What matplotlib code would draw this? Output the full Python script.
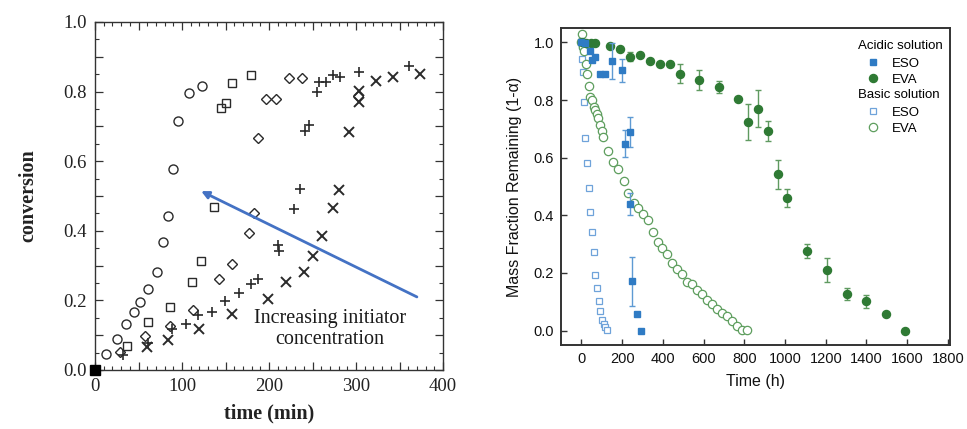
import matplotlib
matplotlib.use("Agg")
import matplotlib.pyplot as plt
from matplotlib.ticker import MultipleLocator, FuncFormatter
from matplotlib.lines import Line2D

# ---------------- Left panel data (time in min, conversion) ----------------
circ_t = [13, 25, 36, 45, 52, 61, 71, 78, 84, 90, 95, 108, 123]
circ_c = [0.047, 0.09, 0.132, 0.166, 0.194, 0.232, 0.281, 0.369, 0.443, 0.578, 0.716, 0.796, 0.816]

sq_t = [37, 61, 86, 111, 122, 137, 145, 150, 157, 179]
sq_c = [0.069, 0.138, 0.182, 0.254, 0.314, 0.469, 0.752, 0.768, 0.826, 0.848]

dia_t = [29, 58, 86, 113, 143, 157, 177, 183, 187, 196, 208, 223, 238, 302]
dia_c = [0.053, 0.097, 0.127, 0.172, 0.261, 0.306, 0.393, 0.45, 0.668, 0.778, 0.778, 0.84, 0.84, 0.786]

plus_t = [32, 61, 88, 105, 118, 135, 149, 166, 179, 187, 210, 211, 229, 236, 241, 246,
          255, 257, 265, 273, 282, 303, 361]
plus_c = [0.043, 0.078, 0.117, 0.131, 0.158, 0.168, 0.197, 0.22, 0.248, 0.261, 0.359, 0.343,
          0.463, 0.52, 0.686, 0.704, 0.80, 0.828, 0.828, 0.847, 0.842, 0.855, 0.873]

x_t = [60, 84, 119, 158, 199, 219, 240, 250, 261, 273, 281, 292, 303, 303, 323, 343, 374]
x_c = [0.065, 0.086, 0.117, 0.16, 0.205, 0.253, 0.283, 0.328, 0.385, 0.465, 0.518, 0.683,
       0.769, 0.803, 0.83, 0.842, 0.852]

origin_t = [0]
origin_c = [0.0]

arrow_start = (370, 0.21)
arrow_end = (122, 0.514)
annot_text = "Increasing initiator\nconcentration"
annot_pos = (270, 0.118)

# ---------------- Right panel data (time in h, mass fraction) ----------------
ac_eso_t = [0, 20, 43, 52, 69, 92, 115, 149, 198, 215, 241, 241, 247, 272, 293]
ac_eso_v = [1.0, 0.999, 0.97, 0.938, 0.949, 0.889, 0.889, 0.935, 0.903, 0.649, 0.69, 0.44,
            0.171, 0.056, 0.0]
ac_eso_e = [0, 0, 0, 0, 0, 0, 0, 0.063, 0.039, 0.048, 0.052, 0.038, 0.085, 0, 0]

ac_eva_t = [5, 25, 45, 68, 141, 190, 240, 289, 338, 384, 433, 482, 577, 674, 771, 820, 866,
            915, 964, 1012, 1108, 1207, 1302, 1400, 1495, 1590]
ac_eva_v = [1.0, 0.998, 0.997, 0.997, 0.987, 0.978, 0.95, 0.958, 0.935, 0.924, 0.924, 0.892,
            0.869, 0.845, 0.802, 0.725, 0.77, 0.694, 0.543, 0.46, 0.277, 0.21, 0.127, 0.102,
            0.058, 0.0]
ac_eva_e = [0, 0, 0, 0, 0, 0, 0.015, 0, 0, 0, 0, 0.033, 0.035, 0.022, 0, 0.063, 0.065, 0.035,
            0.05, 0.03, 0.025, 0.043, 0.021, 0.023, 0, 0]

ba_eso_t = [0, 2, 4, 6, 11, 20, 28, 36, 44, 52, 61, 69, 77, 85, 93, 102, 110, 118, 126]
ba_eso_v = [1.0, 0.987, 0.941, 0.897, 0.794, 0.67, 0.58, 0.494, 0.41, 0.341, 0.273, 0.192,
            0.148, 0.102, 0.067, 0.038, 0.023, 0.012, 0.001]

ba_eva_t = [0, 2, 8, 15, 23, 28, 36, 44, 52, 61, 69, 75, 84, 92, 100, 108, 133, 157, 182, 207,
            231, 256, 280, 302, 326, 351, 375, 397, 421, 446, 471, 495, 520, 545, 567, 592,
            616, 641, 664, 689, 713, 738, 762, 787, 815]
ba_eva_v = [1.0, 1.03, 0.985, 0.97, 0.926, 0.891, 0.848, 0.811, 0.799, 0.777, 0.767, 0.751,
            0.738, 0.712, 0.692, 0.671, 0.623, 0.584, 0.562, 0.518, 0.478, 0.443, 0.426, 0.406,
            0.385, 0.341, 0.307, 0.287, 0.266, 0.235, 0.212, 0.197, 0.168, 0.16, 0.142, 0.127,
            0.105, 0.093, 0.075, 0.061, 0.052, 0.032, 0.017, 0.001, 0.001]

right_xticks = [0, 200, 400, 600, 800, 1000, 1200, 1400, 1600, 1800]
right_yticks = [0.0, 0.2, 0.4, 0.6, 0.8, 1.0]
legend_groups = ["Acidic solution", "Basic solution"]
legend_labels = ["ESO", "EVA"]

# ---------------- Figure ----------------
fig = plt.figure(figsize=(9.67, 4.29), dpi=100)

# ===== Left panel =====
SERIF = ["Liberation Serif", "DejaVu Serif"]
axL = fig.add_axes([95 / 967, 1 - 370 / 429, 348 / 967, 348 / 429])
mk = dict(linestyle="none", color="#2a2a2a", markerfacecolor="none", markeredgewidth=1.0)
axL.plot(circ_t, circ_c, marker="o", markersize=6.5, **mk)
axL.plot(sq_t, sq_c, marker="s", markersize=6.2, **mk)
axL.plot(dia_t, dia_c, marker="D", markersize=5.2, **mk)
axL.plot(plus_t, plus_c, marker="+", markersize=7, linestyle="none", color="#2a2a2a",
         markeredgewidth=1.2)
axL.plot(x_t, x_c, marker="x", markersize=6.5, linestyle="none", color="#2a2a2a",
         markeredgewidth=1.4)
axL.plot(origin_t, origin_c, marker="s", markersize=7, linestyle="none", color="black",
         clip_on=False, zorder=5)

axL.set_xlim(0, 400)
axL.set_ylim(0, 1.0)
axL.xaxis.set_major_locator(MultipleLocator(50))
axL.xaxis.set_minor_locator(MultipleLocator(10))
axL.yaxis.set_major_locator(MultipleLocator(0.1))
axL.yaxis.set_minor_locator(MultipleLocator(0.05))
axL.xaxis.set_major_formatter(FuncFormatter(
    lambda v, p: f"{int(round(v))}" if round(v) % 100 == 0 else ""))
axL.yaxis.set_major_formatter(FuncFormatter(
    lambda v, p: f"{v:.1f}" if round(v * 10) % 2 == 0 else ""))
axL.tick_params(which="both", direction="in", top=True, right=True, colors="#333333",
                labelcolor="#222222")
axL.tick_params(which="major", length=6, width=0.9, labelsize=13.5, pad=6)
axL.tick_params(which="minor", length=3, width=0.8)
for lab in axL.get_xticklabels() + axL.get_yticklabels():
    lab.set_family(SERIF)
for s in axL.spines.values():
    s.set_color("#333333")
    s.set_linewidth(1.0)
axL.set_xlabel("time (min)", family=SERIF, fontsize=14.5, fontweight="bold",
               color="#222222", labelpad=6)
axL.set_ylabel("conversion", family=SERIF, fontsize=14.5, fontweight="bold",
               color="#222222", labelpad=18)

axL.annotate("", xy=arrow_end, xytext=arrow_start,
             arrowprops=dict(arrowstyle="-|>", color="#4472c4", lw=2.0, mutation_scale=11,
                             shrinkA=0, shrinkB=0))
axL.text(annot_pos[0], annot_pos[1], annot_text, family=SERIF, fontsize=14.5,
         ha="center", va="center", color="#1a1a1a", linespacing=1.15)

# ===== Right panel =====
SANS = ["Liberation Sans", "DejaVu Sans"]
blue = "#2f7bc4"
blue_e = "#5e9ad3"
blue_open = "#6fa3da"
green = "#2f7a34"
green_e = "#5f9a60"
green_open = "#5e9e5e"

axR = fig.add_axes([561 / 967, 1 - 345 / 429, 389 / 967, 317 / 429])
axR.errorbar(ac_eso_t, ac_eso_v, yerr=ac_eso_e, fmt="s", color=blue, ecolor=blue_e,
             markersize=5, elinewidth=1.0, capsize=2.5, capthick=1.0, zorder=4)
axR.errorbar(ac_eva_t, ac_eva_v, yerr=ac_eva_e, fmt="o", color=green, ecolor=green_e,
             markersize=5.8, elinewidth=1.0, capsize=2.5, capthick=1.0, zorder=3)
axR.plot(ba_eso_t, ba_eso_v, linestyle="none", marker="s", markersize=5,
         markerfacecolor="white", markeredgecolor=blue_open, markeredgewidth=0.9, zorder=2)
axR.plot(ba_eva_t, ba_eva_v, linestyle="none", marker="o", markersize=6,
         markerfacecolor="white", markeredgecolor=green_open, markeredgewidth=0.9, zorder=2)

axR.set_xlim(-100, 1810)
axR.set_ylim(-0.05, 1.05)
axR.set_xticks(right_xticks)
axR.set_yticks(right_yticks)
axR.set_yticklabels([f"{v:.1f}" for v in right_yticks])
axR.tick_params(direction="in", length=4, width=1.0, labelsize=10.5, colors="#333333",
                labelcolor="#111111", pad=5)
for lab in axR.get_xticklabels() + axR.get_yticklabels():
    lab.set_family(SANS)
for s in axR.spines.values():
    s.set_color("#333333")
    s.set_linewidth(1.4)
axR.set_xlabel("Time (h)", family=SANS, fontsize=11.5, color="#111111", labelpad=6)
axR.set_ylabel("Mass Fraction Remaining (1-\u03b1)", family=SANS, fontsize=11.5,
               color="#111111", labelpad=8)

acid_handles = [Line2D([], [], linestyle="none", marker="s", markersize=5, color=blue),
                Line2D([], [], linestyle="none", marker="o", markersize=5.8, color=green)]
basic_handles = [Line2D([], [], linestyle="none", marker="s", markersize=5,
                        markerfacecolor="white", markeredgecolor=blue_open, markeredgewidth=0.9),
                 Line2D([], [], linestyle="none", marker="o", markersize=6,
                        markerfacecolor="white", markeredgecolor=green_open, markeredgewidth=0.9)]
legkw = dict(frameon=False, loc="upper left", borderpad=0, borderaxespad=0,
             handlelength=2.3, handletextpad=0.3, labelspacing=0.28,
             prop={"family": SANS, "size": 9.5},
             title_fontproperties={"family": SANS, "size": 9.5}, alignment="left")
leg1 = axR.legend(acid_handles, legend_labels, title=legend_groups[0],
                  bbox_to_anchor=(0.763, 0.962), **legkw)
leg1._legend_box.sep = 4
axR.add_artist(leg1)
leg2 = axR.legend(basic_handles, legend_labels, title=legend_groups[1],
                  bbox_to_anchor=(0.763, 0.807), **legkw)
leg2._legend_box.sep = 4

fig.savefig("out.png", dpi=100)
